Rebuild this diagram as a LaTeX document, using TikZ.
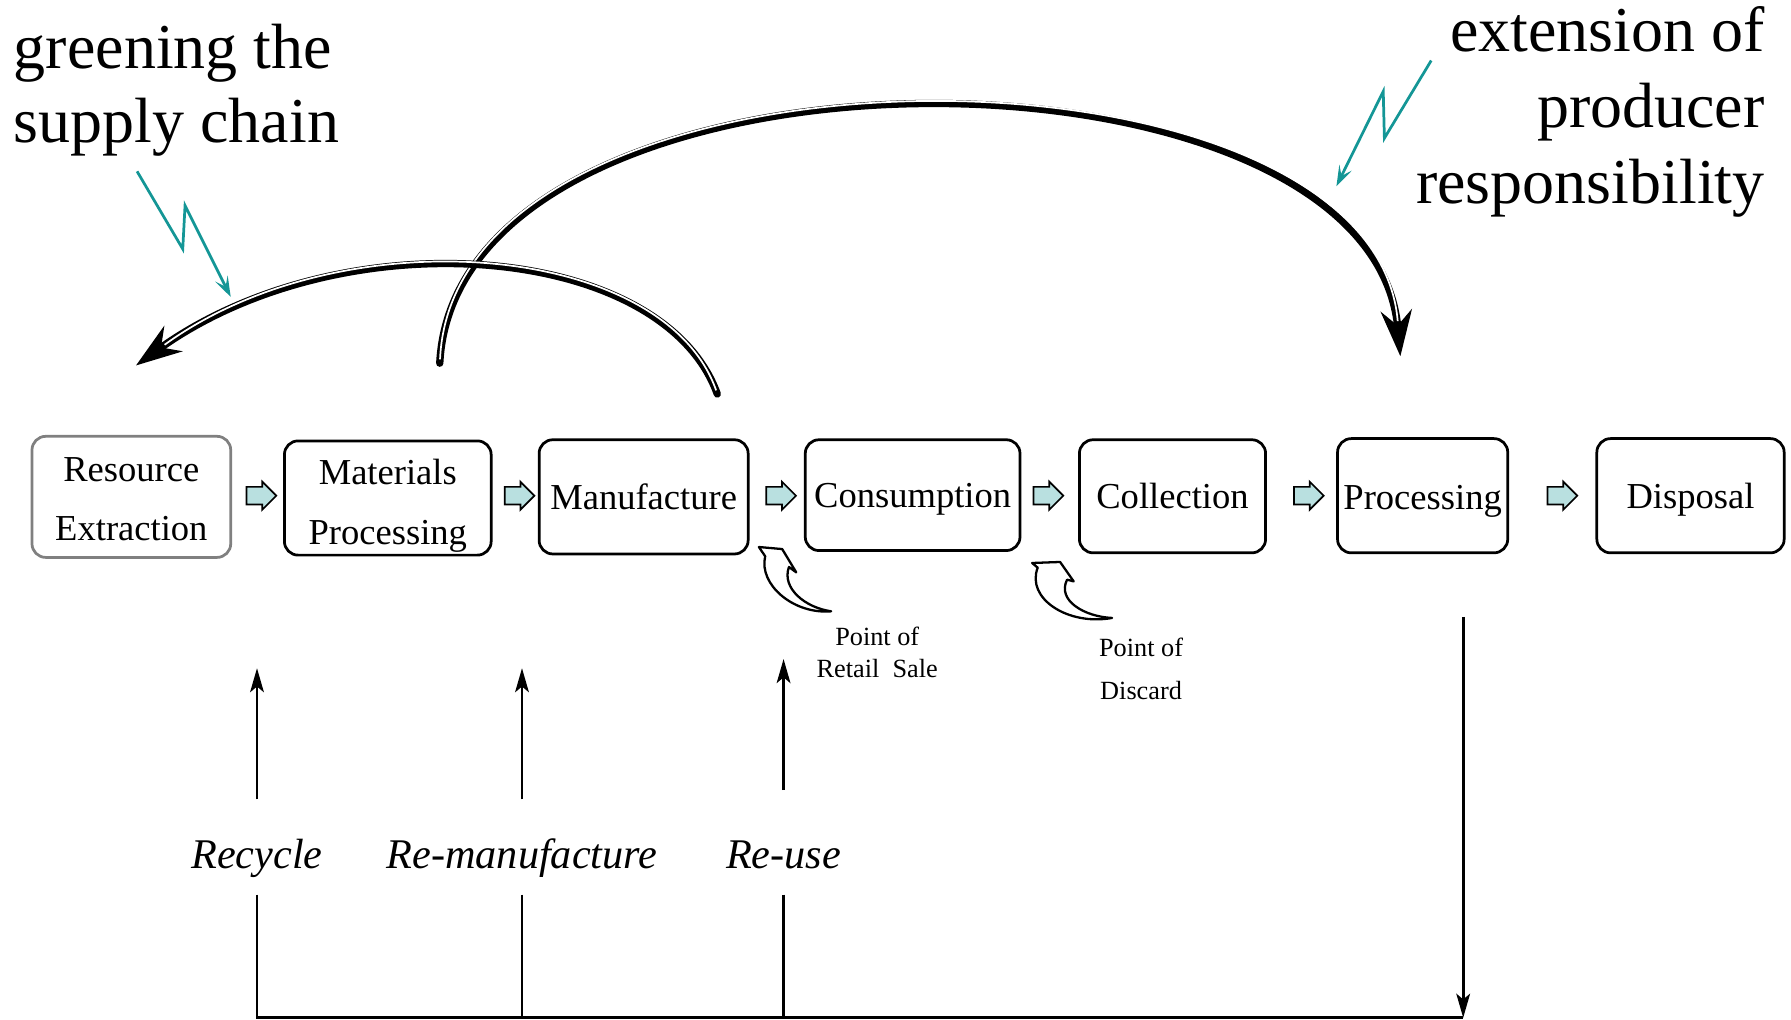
\documentclass[tikz,border=0pt]{standalone}
\usepackage{fontspec}
\setmainfont{Liberation Serif}
\usetikzlibrary{arrows.meta,shapes.arrows}
\definecolor{teal1}{RGB}{20,150,150}
\definecolor{blockfill}{RGB}{185,224,224}
\definecolor{gray1}{RGB}{128,128,128}
\newcommand\bstrut[1]{\rule{0pt}{#1}}
\begin{document}
\begin{tikzpicture}[x=1pt,y=-1pt,
  box/.style={draw, rounded corners=12pt, line width=2.4pt, inner sep=0pt, align=center, font=\fontsize{32}{52}\selectfont},
  onebox/.style={box, text height=22pt, text depth=0pt},
  blockarrow/.style={single arrow, draw, fill=blockfill, line width=1.5pt, minimum height=26pt, text height=7pt, text depth=7pt, text width=0pt, inner sep=0pt, single arrow head extend=4.5pt},
  bigtxt/.style={inner sep=0pt, font=\fontsize{56}{66}\selectfont},
  lbl/.style={anchor=base, inner sep=0pt, text height=60pt, text depth=23pt, font=\fontsize{37}{44}\selectfont\itshape},
  smalltxt/.style={align=center, inner sep=0pt, font=\fontsize{23}{28}\selectfont},
  thinarrow/.style={line width=2.4pt, -{Stealth[length=21pt,width=12pt,inset=5pt]}},
  thinline/.style={line width=2.4pt},
  bigblack/.style={line width=6.4pt, line cap=round, -{Stealth[length=40pt,width=27pt,inset=13pt]}},
  bigwhite/.style={white, line width=1.5pt, shorten >=31pt, shorten <=3.5pt},
  zigzag/.style={teal1, line width=2.4pt, -{Stealth[length=18pt,width=12pt,inset=8pt]}},
  curly/.style={draw, fill=white, line width=2pt, line join=round}
]
\useasboundingbox (0,0) rectangle (1568,893);

% boxes
\node[box, draw=gray1, minimum width=174pt, minimum height=106pt] (res) at (115,435) {\bstrut{25pt}Resource\\Extraction};
\node[box, minimum width=181pt, minimum height=100pt] (mat) at (339.5,436) {\bstrut{36pt}Materials\\Processing};
\node[onebox, minimum width=183pt, minimum height=100pt] (man) at (563.5,435) {Manufacture};
\node[onebox, minimum width=188pt, minimum height=97pt] (con) at (799,433.5) {Consumption};
\node[onebox, minimum width=163pt, minimum height=99pt] (col) at (1026.5,434.5) {Collection};
\node[onebox, text height=24pt, minimum width=149pt, minimum height=100pt] (pro) at (1245.5,434) {Processing};
\node[onebox, minimum width=164pt, minimum height=100pt] (dis) at (1480,434) {Disposal};

% block arrows
\node[blockarrow] (ba1) at (225,434) {};
\node[blockarrow] (ba2) at (451,434) {};
\node[blockarrow] (ba3) at (680,434) {};
\node[blockarrow] (ba4) at (914,434) {};
\node[blockarrow] (ba5) at (1142,434) {};
\node[blockarrow] (ba6) at (1364,434) {};

% big curved double arrows (thin white line set slightly towards the outer side)
\coordinate (bs) at (385,318);
\coordinate (be) at (1226,312);
\coordinate (as) at (628,345);
\coordinate (ae) at (119,320);
\draw[bigblack] (bs) .. controls (400,20) and (1200,20) .. (be);
\draw[bigwhite, shift={(805,330)}, scale=1.004, shift={(-805,-330)}] (bs) .. controls (400,20) and (1200,20) .. (be);
\draw[bigblack] (as) .. controls (580,212) and (300,190) .. (ae);
\draw[bigwhite, shift={(390,420)}, scale=1.005, shift={(-390,-420)}] (as) .. controls (580,212) and (300,190) .. (ae);

% big texts
\node[bigtxt, anchor=base west] (g1) at (12,60) {greening the};
\node[bigtxt, anchor=base west] (g2) at (12,125) {supply chain};
\node[bigtxt, anchor=base east] (e1) at (1545,45) {extension of};
\node[bigtxt, anchor=base east] (e2) at (1545,112) {producer};
\node[bigtxt, anchor=base east] (e3) at (1545,178) {responsibility};

% teal lightning arrows
\coordinate (z1s) at (120,150);
\coordinate (z1e) at (202,260);
\draw[zigzag] (z1s) -- (160,218) -- (162,180) -- (z1e);
\coordinate (z2s) at (1253,53);
\coordinate (z2e) at (1170,163);
\draw[zigzag] (z2s) -- (1212,121) -- (1211,80) -- (z2e);

% curly arrows
\draw[curly] (727.7,535.2) .. controls (705,532) and (684,515) .. (690.7,496.4)
  -- (697.1,501.1) -- (684.8,480.7) -- (664.4,478.9) -- (669.9,487)
  .. controls (664,512) and (695,538) .. cycle;
\draw[curly] (973.6,541) .. controls (950,540) and (925,526) .. (934.2,507.5)
  -- (940,509) -- (928.1,492) -- (903.6,492.9) -- (908.5,497)
  .. controls (898,524) and (935,548) .. cycle;

\node[smalltxt] (pr) at (768,571) {Point of\\Retail~~Sale};
\node[smalltxt, font=\fontsize{23}{37}\selectfont] (pdc) at (999,585.5) {Point of\\Discard};

% lower labels and arrows
\node[lbl] (rec) at (225,760) {Recycle};
\node[lbl] (rem) at (457,760) {Re-manufacture};
\node[lbl] (reu) at (686,760) {Re-use};
\coordinate (rect) at (225,585);
\coordinate (remt) at (457,585);
\coordinate (reut) at (686,577);
\draw[thinarrow] (rec.north) -- (rect);
\draw[thinarrow] (rem.north) -- (remt);
\draw[thinarrow] ([yshift=8pt]reu.north) -- (reut);

\coordinate (pdown) at (1281,540);
\coordinate (pend) at (1281,891);
\draw[thinline] (rec.south) |- (pend);
\draw[thinline] (rem.south) -- (rem.south |- pend);
\draw[thinline] (reu.south) -- (reu.south |- pend);
\draw[thinarrow] (pdown) -- (pend);
\end{tikzpicture}
\end{document}
